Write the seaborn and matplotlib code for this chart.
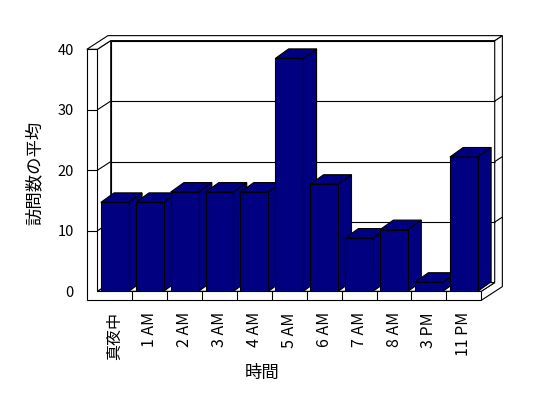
import matplotlib
matplotlib.use('Agg')
import matplotlib.pyplot as plt
from matplotlib.patches import Polygon
import seaborn as sns

hours = ['真夜中', '1 AM', '2 AM', '3 AM', '4 AM', '5 AM', '6 AM', '7 AM', '8 AM', '3 PM', '11 PM']
visits = [14.7, 14.7, 16.4, 16.4, 16.4, 38.5, 17.7, 8.8, 10.2, 1.5, 22.2]
yticks = [0, 10, 20, 30, 40]

BAR = '#000080'
LW = 0.8
# oblique depth of the 3-D box (data units)
DX, DY = 0.384, 1.44     # floor / inner back wall
BDX, BDY = 0.381, 1.57   # bar depth
K = 1.57                 # outer face of back wall, as multiple of depth
TW, FT = 0.30, 1.49      # left wall / floor thickness
X0, X1 = -0.5, len(hours) - 0.5
YTOP = yticks[-1]

sns.set_style('white')
plt.rcParams['font.family'] = ['Noto Sans CJK JP', 'DejaVu Sans']
for key in ['text.color', 'axes.labelcolor', 'xtick.color', 'ytick.color']:
    plt.rcParams[key] = 'black'

fig = plt.figure(figsize=(5.48, 3.98), dpi=100)
ax = fig.add_axes([0.1776, 0.2681, 0.7007, 0.6080])

sns.barplot(x=hours, y=visits, color=BAR, saturation=1, width=0.8,
            edgecolor='black', linewidth=LW, ax=ax)
bars = list(ax.patches)


def poly(pts, z, fc='white'):
    ax.add_patch(Polygon(pts, closed=True, facecolor=fc, edgecolor='black',
                         linewidth=LW, zorder=z, clip_on=False))


def line(xs, ys, z=1.5):
    ax.plot(xs, ys, color='black', lw=LW, zorder=z, clip_on=False,
            solid_capstyle='butt')


# back wall (inner face) and its right-hand edge
poly([(X0 + DX, DY), (X1 + DX, DY), (X1 + DX, YTOP + DY), (X0 + DX, YTOP + DY)], 1)
poly([(X1, -FT), (X1 + K * DX, -FT + K * DY), (X1 + K * DX, YTOP + K * DY),
      (X1 + DX, YTOP + DY), (X1 + DX, DY), (X1, 0)], 1)
# floor
poly([(X0, 0), (X1, 0), (X1 + DX, DY), (X0 + DX, DY)], 1)
# left wall inner face
poly([(X0, 0), (X0 + DX, DY), (X0 + DX, YTOP + DY), (X0, YTOP)], 1)
# top of the walls
poly([(X0 - TW, YTOP), (X0, YTOP), (X0 + DX, YTOP + DY), (X1 + DX, YTOP + DY),
      (X1 + K * DX, YTOP + K * DY), (X0 - TW + K * DX, YTOP + K * DY)], 1)
# front face of left wall + floor
poly([(X0 - TW, -FT), (X1, -FT), (X1, 0), (X0, 0), (X0, YTOP), (X0 - TW, YTOP)], 2)

for v in yticks[1:-1]:
    line([X0 + DX, X1 + DX], [v + DY, v + DY])
    line([X0, X0 + DX], [v, v + DY])
    line([X1 + DX, X1 + K * DX], [v + DY, v + K * DY])
    line([X0 - TW, X0], [v, v], z=2.5)
for b in range(len(hours) - 1):
    line([b + 0.5, b + 0.5], [0, -FT], z=2.5)

# 3-D faces for each bar
for i, p in enumerate(bars):
    x, w, h = p.get_x(), p.get_width(), p.get_height()
    z = 3 + 0.1 * i
    p.set_zorder(z + 0.05)
    poly([(x + w, 0), (x + w + BDX, BDY), (x + w + BDX, h + BDY), (x + w, h)], z, BAR)
    poly([(x, h), (x + w, h), (x + w + BDX, h + BDY), (x + BDX, h + BDY)], z, BAR)

ax.set_xlim(X0, X1)
ax.set_ylim(0, YTOP)
ax.set_yticks(yticks)
ax.grid(False)
sns.despine(ax=ax, left=True, bottom=True)
ax.tick_params(axis='y', length=0, pad=17, labelsize=10.5)
ax.tick_params(axis='x', length=0, pad=15, labelsize=11.5, rotation=90)

ax.set_ylabel('訪問数の平均', fontsize=12.5)
ax.yaxis.set_label_coords(-0.14, 0.49)
ax.set_xlabel('時間', fontsize=12.5)
ax.xaxis.set_label_coords(0.429, -0.30)

fig.savefig('out.png', dpi=100, facecolor='white')
